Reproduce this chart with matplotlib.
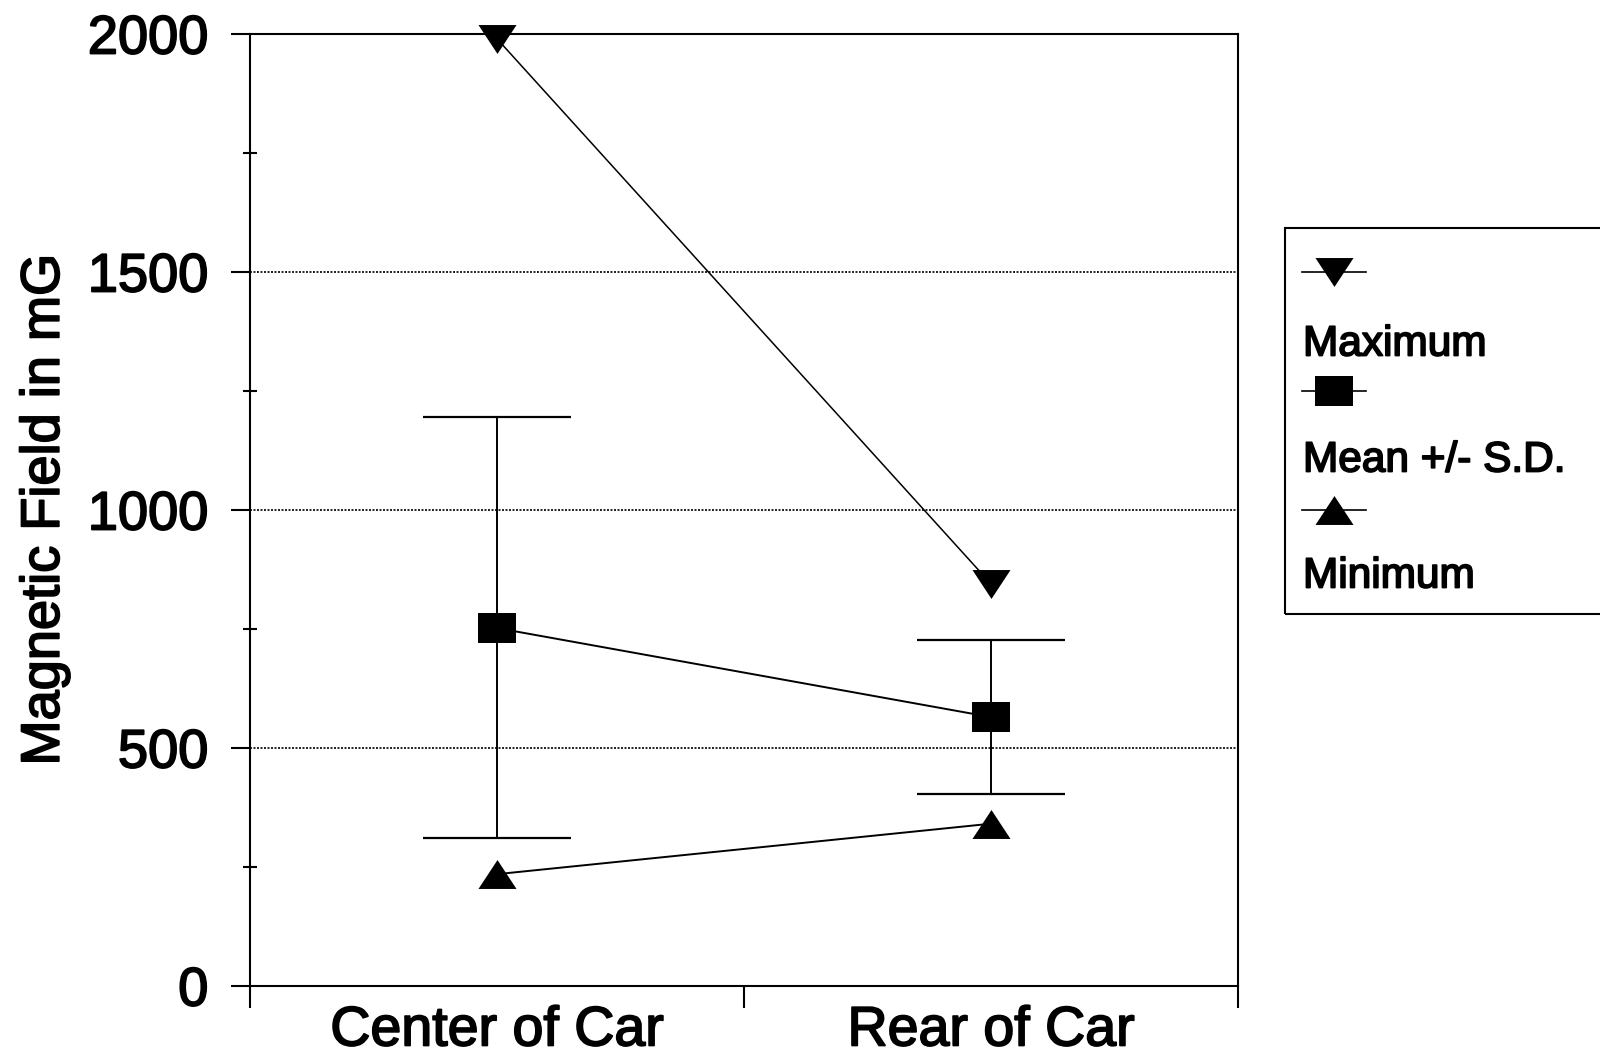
import matplotlib
matplotlib.use("Agg")
import matplotlib.pyplot as plt
import matplotlib.patheffects as pe
from matplotlib.lines import Line2D
from matplotlib.patches import Rectangle
from matplotlib.ticker import MultipleLocator, FixedLocator, NullFormatter

plt.rcParams["font.family"] = ["Liberation Sans", "DejaVu Sans"]

# ── data ─────────────────────────────────────────────────────────────────────
locations = ["Center of Car", "Rear of Car"]
maximum   = [1990, 845]
mean      = [752, 565]
sd_upper  = [1195, 727]
sd_lower  = [311, 403]
minimum   = [235, 341]
legend_labels = ["Maximum", "Mean +/- S.D.", "Minimum"]

xpos = [0.5, 1.5]
err_lo = [m - lo for m, lo in zip(mean, sd_lower)]
err_hi = [hi - m for m, hi in zip(mean, sd_upper)]

# wide, flat markers like the scanned original
TRI_DOWN = [(-1, 0.76), (1, 0.76), (0, -0.76), (-1, 0.76)]
TRI_UP   = [(-1, -0.76), (1, -0.76), (0, 0.76), (-1, -0.76)]
SQUARE   = [(-1, -0.79), (1, -0.79), (1, 0.79), (-1, 0.79), (-1, -0.79)]
MS = 27.4

# scanned text looks heavier than plain Arial
HEAVY = [pe.withStroke(linewidth=1.3, foreground="black")]

fig = plt.figure(figsize=(16, 10.6), dpi=100)
ax = fig.add_axes([0.15625, 0.0698, 0.6175, 0.8981])

# gridlines
for yv in [500, 1000, 1500]:
    ax.axhline(yv, color="black", lw=1.2, ls=(0, (1.2, 0.9)), zorder=1)

ax.errorbar(xpos, mean, yerr=[err_lo, err_hi], fmt="none", ecolor="black",
            elinewidth=1.4, capsize=53, capthick=1.6, zorder=2)
ax.plot(xpos, maximum, color="black", lw=1.1, marker=TRI_DOWN, ms=MS,
        mew=0, mfc="black", zorder=3, clip_on=False)
ax.plot(xpos, mean, color="black", lw=1.4, marker=SQUARE, ms=MS,
        mew=0, mfc="black", zorder=3)
ax.plot(xpos, minimum, color="black", lw=1.4, marker=TRI_UP, ms=MS,
        mew=0, mfc="black", zorder=3)

ax.set_xlim(0, 2)
ax.set_ylim(0, 2000)

for s in ax.spines.values():
    s.set_linewidth(1.5)
    s.set_color("black")

# y axis
ax.yaxis.set_major_locator(MultipleLocator(500))
ax.yaxis.set_minor_locator(MultipleLocator(250))
ax.tick_params(axis="y", which="major", direction="out", length=14, width=1.5,
               labelsize=39, pad=16)
ax.tick_params(axis="y", which="minor", direction="inout", length=10, width=1.5)

# x axis: boundary ticks, labels centred on categories
ax.xaxis.set_major_locator(FixedLocator([0, 1, 2]))
ax.xaxis.set_major_formatter(NullFormatter())
ax.xaxis.set_minor_locator(FixedLocator(xpos))
ax.set_xticklabels(locations, minor=True)
ax.tick_params(axis="x", which="major", direction="out", length=16, width=1.5)
ax.tick_params(axis="x", which="minor", length=0, labelsize=40, pad=14)

for lbl in ax.get_yticklabels() + ax.get_xticklabels(minor=True):
    lbl.set_path_effects(HEAVY)

fig.text(0.028, 0.519, "Magnetic Field in mG", rotation=90, fontsize=39,
         ha="center", va="center", path_effects=HEAVY)

# ── legend, drawn by hand: marker row above each label ───────────────────────
W, H = 1600, 1060
fig.add_artist(Rectangle((1285 / W, 1 - 614 / H), 0.25, (614 - 228) / H,
                         transform=fig.transFigure, fill=False,
                         edgecolor="black", lw=1.5))
markers = [TRI_DOWN, SQUARE, TRI_UP]
marker_y = [272, 391, 510]
label_y = [340, 456, 572]
for mk, my, lab, ly in zip(markers, marker_y, legend_labels, label_y):
    fig.add_artist(Line2D([1302 / W, 1366 / W], [1 - my / H, 1 - my / H],
                          transform=fig.transFigure, color="black", lw=1.2))
    fig.add_artist(Line2D([1334 / W], [1 - my / H], transform=fig.transFigure,
                          marker=mk, ms=MS, mew=0, mfc="black", ls="none"))
    fig.text(1303 / W, 1 - ly / H, lab, fontsize=30.5, ha="left",
             va="center_baseline", path_effects=HEAVY)

fig.savefig("out.png", dpi=100)
